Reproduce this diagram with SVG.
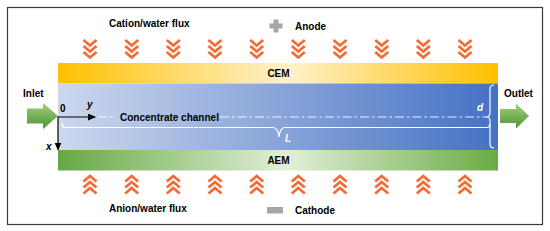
<svg xmlns="http://www.w3.org/2000/svg" width="550" height="231" viewBox="0 0 550 231">
<defs>
<linearGradient id="gCEM" x1="0" y1="0" x2="1" y2="0">
<stop offset="0" stop-color="#FFC000"/>
<stop offset="0.52" stop-color="#FFF2CC"/>
<stop offset="1" stop-color="#FFC000"/>
</linearGradient>
<linearGradient id="gAEM" x1="0" y1="0" x2="1" y2="0">
<stop offset="0" stop-color="#66A843"/>
<stop offset="0.52" stop-color="#E2EFD9"/>
<stop offset="1" stop-color="#6AAB44"/>
</linearGradient>
<linearGradient id="gChan" x1="0" y1="0" x2="1" y2="0">
<stop offset="0" stop-color="#CDD8EE"/>
<stop offset="1" stop-color="#4571C4"/>
</linearGradient>
<linearGradient id="gArrow" x1="0" y1="0" x2="0" y2="1">
<stop offset="0" stop-color="#A2D07E"/>
<stop offset="1" stop-color="#4F9232"/>
</linearGradient>
<marker id="ah" markerWidth="8" markerHeight="7" refX="7" refY="3.5" orient="auto" markerUnits="userSpaceOnUse">
<path d="M0,0 L8,3.5 L0,7 z" fill="#000"/>
</marker>
<g id="chevDown" class="chev">
<polyline points="-6.5,0 0,5.5 6.5,0"/>
<polyline points="-6.5,6 0,11.5 6.5,6"/>
<polyline points="-6.5,12 0,17.5 6.5,12"/>
</g>
<g id="chevUp" class="chev">
<polyline points="-6.5,5.5 0,0 6.5,5.5"/>
<polyline points="-6.5,11.5 0,6 6.5,11.5"/>
<polyline points="-6.5,17.5 0,12 6.5,17.5"/>
</g>
</defs>
<style>
text { font-family: "Liberation Sans", Arial, sans-serif; font-weight: bold; font-size: 10px; fill: #000; }
.w { fill: #fff; font-style: italic; }
.it { font-style: italic; }
.chev { fill: none; stroke: #F26C38; stroke-width: 2.8; stroke-linejoin: miter; }
.dim { fill: none; stroke: #fff; stroke-width: 1.2; }
.cl { fill: none; stroke: #fff; stroke-opacity: 0.85; stroke-width: 1.2; stroke-dasharray: 9 3 2.5 3; }
</style>
<rect x="0" y="0" width="550" height="231" fill="#fff"/>
<rect id="frame" x="7.5" y="7.5" width="535" height="217" fill="#fff" stroke="#3A3A3A" stroke-width="1.2"/>

<g id="cem">
<rect x="58" y="63" width="440" height="20.5" fill="url(#gCEM)"/>
<text x="278.5" y="76.5" text-anchor="middle">CEM</text>
</g>
<g id="channel">
<rect x="58" y="83.5" width="440" height="66.5" fill="url(#gChan)"/>
<text x="120" y="121">Concentrate channel</text>
</g>
<g id="aem">
<rect x="58" y="150" width="440" height="20.5" fill="url(#gAEM)"/>
<text x="278.5" y="164" text-anchor="middle">AEM</text>
</g>

<g id="inlet">
<polygon points="27,108.5 43,108.5 43,103 58,116 43,129 43,123.5 27,123.5" fill="url(#gArrow)"/>
<text x="23" y="96.5">Inlet</text>
</g>
<g id="outlet">
<polygon points="500,109 516,109 516,103.5 529,116 516,128.5 516,123 500,123" fill="url(#gArrow)"/>
<text x="504" y="96.5">Outlet</text>
</g>

<g id="anode">
<path d="M273.5,19.5 h5 v4 h4 v5 h-4 v4 h-5 v-4 h-4 v-5 h4 z" fill="#A6A6A6"/>
<text x="295" y="30">Anode</text>
</g>
<g id="cathode">
<rect x="267" y="207" width="16" height="6.5" fill="#A6A6A6"/>
<text x="295" y="214">Cathode</text>
</g>

<g id="cationFlux">
<text x="109" y="27">Cation/water flux</text>
<use href="#chevDown" x="90" y="40"/>
<use href="#chevDown" x="131.7" y="40"/>
<use href="#chevDown" x="173.3" y="40"/>
<use href="#chevDown" x="215" y="40"/>
<use href="#chevDown" x="256.7" y="40"/>
<use href="#chevDown" x="298.3" y="40"/>
<use href="#chevDown" x="340" y="40"/>
<use href="#chevDown" x="381.7" y="40"/>
<use href="#chevDown" x="423.3" y="40"/>
<use href="#chevDown" x="465" y="40"/>
</g>
<g id="anionFlux">
<text x="109" y="211.5">Anion/water flux</text>
<use href="#chevUp" x="90" y="176"/>
<use href="#chevUp" x="131.7" y="176"/>
<use href="#chevUp" x="173.3" y="176"/>
<use href="#chevUp" x="215" y="176"/>
<use href="#chevUp" x="256.7" y="176"/>
<use href="#chevUp" x="298.3" y="176"/>
<use href="#chevUp" x="340" y="176"/>
<use href="#chevUp" x="381.7" y="176"/>
<use href="#chevUp" x="423.3" y="176"/>
<use href="#chevUp" x="465" y="176"/>
</g>

<g id="connectors">
<line class="cl" x1="98" y1="117" x2="116" y2="117"/>
<line class="cl" x1="220" y1="117" x2="486" y2="117"/>
<path class="dim" d="M62,123.5 Q62,127.5 66,127.5 H273 Q278,127.5 279,137 Q280,127.5 285,127.5 H486 Q490,127.5 490,124"/>
<path class="dim" d="M494,85 Q490,85 490,89 V113 Q490,117 486,117 Q490,117 490,121 V144 Q490,148 494,148"/>
<line x1="58" y1="117" x2="95" y2="117" stroke="#000" stroke-width="1.2" marker-end="url(#ah)"/>
<line x1="58" y1="116.5" x2="58" y2="149.5" stroke="#000" stroke-width="1.2" marker-end="url(#ah)"/>
</g>
<g id="labels">
<text x="60" y="112">0</text>
<text class="it" x="87" y="107.5">y</text>
<text class="it" x="46" y="150">x</text>
<text class="w" x="285" y="142">L</text>
<text class="w" x="477" y="111">d</text>
</g>
</svg>
